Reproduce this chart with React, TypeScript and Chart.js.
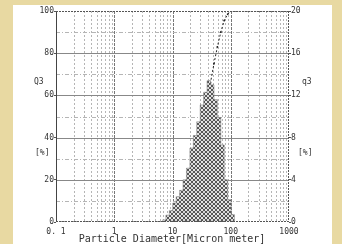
import React, { useEffect, useRef } from "react";
import { Chart, registerables } from "chart.js";
Chart.register(...registerables);

// Channel (bin) edges in micron, q3 per bin (%)
const channelEdges = [6.72, 7.7, 8.82, 10.1, 11.56, 13.24, 15.17, 17.37, 19.89, 22.79, 26.1, 29.89, 34.24, 39.23, 44.9, 51.5, 58.9, 67.5, 77.3, 88.6, 101.4, 116.1];
const q3Values = [0.2, 0.65, 1.1, 1.8, 2.4, 3.0, 4.0, 5.1, 7.0, 8.2, 9.5, 11.1, 12.3, 13.4, 13.0, 11.6, 9.9, 7.3, 4.0, 2.1, 0.7];

// Cumulative Q3 (%)
const cumDiameters = [0.1, 6.72, 7.7, 8.82, 10.1, 11.56, 13.24, 15.17, 17.37, 19.89, 22.79, 26.1, 29.89, 34.24, 39.23, 44.9, 51.5, 58.9, 67.5, 77.3, 88.6, 101.4, 116.1, 1000];
const cumValues = [0, 0, 0.2, 0.7, 1.5, 2.9, 4.8, 7.1, 10.2, 14.2, 19.6, 26.0, 33.4, 43.0, 54.0, 66.0, 75.0, 83.0, 90.0, 95.5, 98.5, 100, 100, 100];

const xTickValues = [0.1, 1, 10, 100, 1000];
const xTickLabels = ["0. 1", "1", "10", "100", "1000"];
const leftTicks = [0, 20, 40, 60, 80, 100];
const rightTicks = [0, 4, 8, 12, 16, 20];

const MONO = '"DejaVu Sans Mono", "Liberation Mono", monospace';

export default function App() {
  const ref = useRef<HTMLCanvasElement>(null);
  useEffect(() => {
    const canvas = ref.current!;
    const pc = document.createElement("canvas");
    pc.width = 4;
    pc.height = 4;
    const p = pc.getContext("2d")!;
    p.fillStyle = "#ffffff";
    p.fillRect(0, 0, 4, 4);
    p.strokeStyle = "#3a3a3a";
    p.lineWidth = 0.9;
    p.beginPath();
    p.arc(2, 2, 1.6, 0, Math.PI * 2);
    p.stroke();
    const ctx0 = canvas.getContext("2d")!;
    const pattern = ctx0.createPattern(pc, "repeat")!;

    const histData = channelEdges.map((e, i) => ({ x: e, y: i < q3Values.length ? q3Values[i] : 0 }));
    const cumData = cumDiameters.map((d, i) => ({ x: d, y: cumValues[i] }));

    const bgPlugin = {
      id: "bg",
      beforeDraw(chart: any) {
        const c = chart.ctx;
        c.save();
        c.fillStyle = "#e8d9a2";
        c.fillRect(0, 0, chart.width, chart.height);
        c.fillStyle = "#ffffff";
        c.fillRect(13, 5, 319, 239);
        c.restore();
      },
      beforeDatasetsDraw(chart: any) {
        const c = chart.ctx;
        const a = chart.chartArea;
        const xs = chart.scales.x;
        const ys = chart.scales.y;
        c.save();
        c.lineWidth = 1;
        for (let dec = 0.1; dec < 1000; dec *= 10) {
          for (let m = 1; m <= 9; m++) {
            const v = dec * m;
            if (v <= 0.1 + 1e-9) continue;
            const px = Math.round(xs.getPixelForValue(v)) + 0.5;
            c.beginPath();
            if (m === 1) {
              c.strokeStyle = "#777";
              c.setLineDash([3, 1]);
            } else {
              c.strokeStyle = "#b5b5b5";
              c.setLineDash([2, 2]);
            }
            c.moveTo(px, a.top);
            c.lineTo(px, a.bottom);
            c.stroke();
          }
        }
        for (let v = 10; v < 100; v += 10) {
          const py = Math.round(ys.getPixelForValue(v)) + 0.5;
          c.beginPath();
          if (v % 20 === 0) {
            c.strokeStyle = "#888";
            c.setLineDash([]);
          } else {
            c.strokeStyle = "#b5b5b5";
            c.setLineDash([4, 2, 1, 2]);
          }
          c.moveTo(a.left, py);
          c.lineTo(a.right, py);
          c.stroke();
        }
        c.restore();
      },
      afterDraw(chart: any) {
        const c = chart.ctx;
        const a = chart.chartArea;
        c.save();
        c.lineWidth = 1;
        c.strokeStyle = "#444";
        c.setLineDash([]);
        c.beginPath();
        c.moveTo(Math.round(a.left) + 0.5, a.top);
        c.lineTo(Math.round(a.left) + 0.5, a.bottom);
        c.stroke();
        c.strokeStyle = "#555";
        c.setLineDash([2, 1]);
        c.beginPath();
        c.moveTo(a.left, Math.round(a.top) + 0.5);
        c.lineTo(a.right, Math.round(a.top) + 0.5);
        c.moveTo(Math.round(a.right) - 0.5, a.top);
        c.lineTo(Math.round(a.right) - 0.5, a.bottom);
        c.moveTo(a.left, Math.round(a.bottom) - 0.5);
        c.lineTo(a.right, Math.round(a.bottom) - 0.5);
        c.stroke();
        c.setLineDash([]);
        c.fillStyle = "#333";
        c.textBaseline = "middle";
        c.font = `8px ${MONO}`;
        c.textAlign = "left";
        c.fillText("Q3", 34, 82);
        c.fillText("[%]", 35, 153);
        c.fillText("q3", 302, 82);
        c.fillText("[%]", 298, 153);
        c.font = `10px ${MONO}`;
        c.textAlign = "center";
        c.fillText("Particle Diameter[Micron meter]", 172, 239);
        c.restore();
      },
    };

    const chart = new Chart(canvas, {
      type: "line",
      data: {
        datasets: [
          {
            label: "q3",
            data: histData,
            yAxisID: "y1",
            stepped: "before",
            fill: "origin",
            backgroundColor: pattern,
            borderColor: "#777",
            borderWidth: 0.5,
            pointRadius: 0,
          },
          {
            label: "Q3",
            data: cumData,
            yAxisID: "y",
            borderColor: "#222",
            borderWidth: 1,
            borderDash: [2, 2],
            pointRadius: 0.9,
            pointBackgroundColor: "#222",
            pointBorderWidth: 0,
            fill: false,
          },
        ],
      },
      options: {
        responsive: false,
        animation: false,
        layout: { padding: { top: 11, left: 0, right: 0, bottom: 0 } },
        plugins: { legend: { display: false }, tooltip: { enabled: false } },
        scales: {
          x: {
            type: "logarithmic",
            min: 0.1,
            max: 1000,
            grid: { display: false, drawTicks: false, tickLength: 0 },
            border: { display: false },
            afterFit(s: any) {
              s.height = 22;
            },
            afterBuildTicks(s: any) {
              s.ticks = xTickValues.map((v) => ({ value: v }));
            },
            ticks: {
              autoSkip: false,
              maxRotation: 0,
              padding: 5,
              color: "#333",
              font: { family: MONO, size: 8 },
              callback: (v: any) => {
                const i = xTickValues.findIndex((t) => Math.abs(t - Number(v)) < 1e-9);
                return i >= 0 ? xTickLabels[i] : "";
              },
            },
          },
          y: {
            position: "left",
            min: 0,
            max: 100,
            afterBuildTicks(s: any) {
              s.ticks = leftTicks.map((v) => ({ value: v }));
            },
            afterFit(s: any) {
              s.width = 56;
            },
            grid: { drawOnChartArea: false, drawTicks: true, tickLength: 2, color: "#555" },
            border: { display: false },
            ticks: { padding: 0, color: "#333", font: { family: MONO, size: 8 } },
          },
          y1: {
            position: "right",
            min: 0,
            max: 20,
            afterBuildTicks(s: any) {
              s.ticks = rightTicks.map((v) => ({ value: v }));
            },
            afterFit(s: any) {
              s.width = 53;
            },
            grid: { drawOnChartArea: false, drawTicks: true, tickLength: 2, color: "#555" },
            border: { display: false },
            ticks: { padding: 0, color: "#333", font: { family: MONO, size: 8 } },
          },
        },
      },
      plugins: [bgPlugin],
    } as any);
    return () => chart.destroy();
  }, []);
  return (
    <div style={{ position: "fixed", left: 0, top: 0, width: 342, height: 244 }}>
      <canvas ref={ref} width={342} height={244} style={{ display: "block" }} />
    </div>
  );
}
